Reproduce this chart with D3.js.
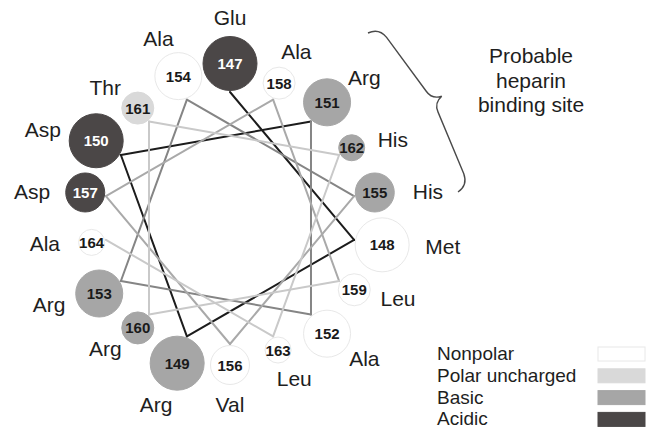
<!DOCTYPE html>
<html><head><meta charset="utf-8">
<script src="https://cdn.jsdelivr.net/npm/d3@7"></script>
<style>html,body{margin:0;padding:0;background:#fff;}svg{display:block;}</style>
</head><body>
<svg id="c" width="655" height="432"></svg>
<script>
const startNumber = 147;
const residueNames = ["Glu","Met","Arg","Asp","Arg","Ala","Arg","Ala","His","Val","Asp","Ala","Leu","Arg","Thr","His","Leu","Ala"];
const residueTypes = ["Acidic","Nonpolar","Basic","Acidic","Basic","Nonpolar","Basic","Nonpolar","Basic","Nonpolar","Acidic","Nonpolar","Nonpolar","Basic","Polar uncharged","Basic","Nonpolar","Nonpolar"];
const legendCategories = ["Nonpolar","Polar uncharged","Basic","Acidic"];
const annotationLines = ["Probable","heparin","binding site"];

const residues = residueNames.map((n,i)=>({num:startNumber+i, name:n, type:residueTypes[i], idx:i}));

const svg = d3.select("#c");
const cx = 230, cy = 218, vertexR = 126, innerEdge = 127;

const fill = d3.scaleOrdinal().domain(legendCategories).range(["#ffffff","#d9d9d9","#a6a6a6","#4b4747"]);
const strokeC = d3.scaleOrdinal().domain(legendCategories).range(["#e8e8e8","#d9d9d9","#a6a6a6","#4b4747"]);
const numColor = d3.scaleOrdinal().domain(legendCategories).range(["#1a1a1a","#1a1a1a","#1a1a1a","#ffffff"]);
const rScale = d3.scaleQuantize().domain([startNumber, startNumber+18]).range([27.5,24,20,16.5,13.5]);
const angle = d3.scaleLinear().domain([0,1]).range([0,100*Math.PI/180]);
const segColor = d3.scaleQuantize().domain([0,16]).range(["#1c1c1c","#858585","#a9a9a9","#c9c9c9"]);

const pt = (a,d)=>[cx + d*Math.sin(a), cy - d*Math.cos(a)];

// connecting lines
const segs = d3.pairs(residues);
svg.append("g").selectAll("line").data(segs).join("line")
  .each(function([a,b]){
    const p = pt(angle(a.idx), vertexR), q = pt(angle(b.idx), vertexR);
    d3.select(this).attr("x1",p[0]).attr("y1",p[1]).attr("x2",q[0]).attr("y2",q[1]);
  })
  .attr("stroke",(d,i)=>segColor(i)).attr("stroke-width",2).attr("stroke-linecap","round");

// circles
const g = svg.append("g").selectAll("g").data(residues).join("g")
  .attr("transform",d=>{const r=rScale(d.num); const p=pt(angle(d.idx), innerEdge + r); return `translate(${p[0]},${p[1]})`;});
g.append("circle").attr("r",d=>rScale(d.num)-0.5).attr("fill",d=>fill(d.type))
  .attr("stroke",d=>strokeC(d.type)).attr("stroke-width",1);
g.append("text").text(d=>d.num).attr("text-anchor","middle").attr("y",5.5)
  .attr("font-family","Liberation Sans, Arial, sans-serif").attr("font-weight","bold").attr("font-size",15)
  .attr("fill",d=>numColor(d.type));

// residue labels
svg.append("g").selectAll("text").data(residues).join("text")
  .text(d=>d.name)
  .attr("font-family","Liberation Sans, Arial, sans-serif").attr("font-size",21).attr("fill","#1e1e1e")
  .attr("text-anchor","middle")
  .each(function(d){
    const a = angle(d.idx), r = rScale(d.num);
    const c = pt(a, innerEdge + r);
    const x = c[0] + (r + 34)*Math.sin(a);
    const y = c[1] - (r + 19)*Math.cos(a)*Math.abs(Math.cos(a));
    d3.select(this).attr("x",x).attr("y",y+7.5);
  });

// brace
const b0=[368,33], b1=[458,192];
const L = Math.hypot(b1[0]-b0[0], b1[1]-b0[1]);
const ang = Math.atan2(b1[1]-b0[1], b1[0]-b0[0])*180/Math.PI;
const h = L/2;
const bracePath = `M0,0 Q1,-12 13,-14 L${h-12},-22 Q${h-2},-23 ${h},-33 Q${h+2},-23 ${h+12},-22 L${L-13},-14 Q${L-1},-12 ${L},0`;
svg.append("path").attr("d",bracePath).attr("fill","none").attr("stroke","#4a4a4a").attr("stroke-width",1.4)
  .attr("transform",`translate(${b0[0]},${b0[1]}) rotate(${ang})`);

svg.append("g").selectAll("text").data(annotationLines).join("text")
  .text(d=>d).attr("x",531).attr("y",(d,i)=>63+i*24.5).attr("text-anchor","middle")
  .attr("font-family","Liberation Sans, Arial, sans-serif").attr("font-size",21).attr("fill","#1e1e1e");

// legend
const lg = svg.append("g").selectAll("g").data(legendCategories).join("g")
  .attr("transform",(d,i)=>`translate(0,${i*21.8})`);
lg.append("text").text(d=>d).attr("x",437).attr("y",360)
  .attr("font-family","Liberation Sans, Arial, sans-serif").attr("font-size",19).attr("fill","#1e1e1e");
lg.append("rect").attr("x",598).attr("y",347).attr("width",47).attr("height",14)
  .attr("fill",d=>fill(d)).attr("stroke",d=>strokeC(d)).attr("stroke-width",1);
</script>
</body></html>
